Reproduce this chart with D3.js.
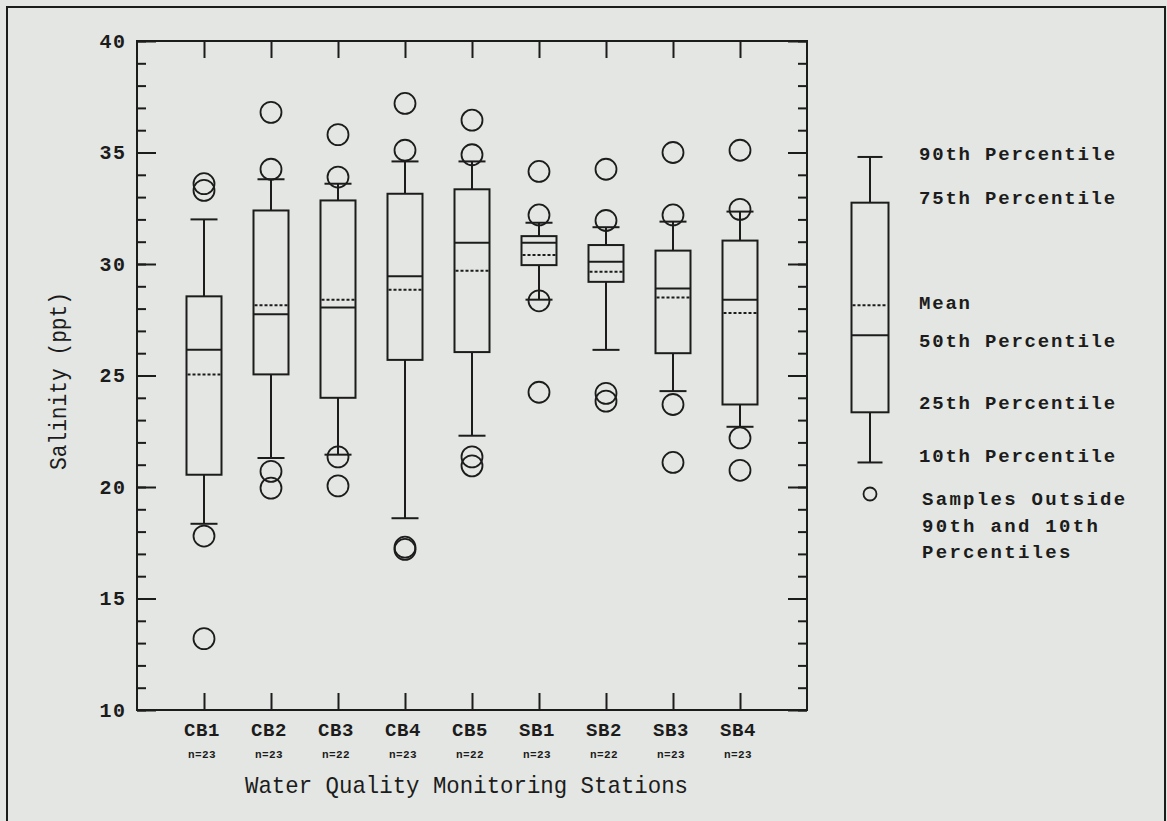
<!DOCTYPE html>
<html>
<head>
<meta charset="utf-8">
<script src="https://cdn.jsdelivr.net/npm/d3@7"></script>
<style>
  html, body { margin: 0; padding: 0; background: #e3e6e2; }
  svg { display: block; }
</style>
</head>
<body>
<svg id="chart" width="1167" height="821"></svg>
<script>
// ---------------- data ----------------
const stations = ["CB1", "CB2", "CB3", "CB4", "CB5", "SB1", "SB2", "SB3", "SB4"];
const nCounts  = [23, 23, 22, 23, 22, 23, 22, 23, 23];
const p90   = [32.0, 33.8, 33.6, 34.6, 34.6, 31.85, 31.65, 31.9, 32.35];
const p75   = [28.55, 32.4, 32.85, 33.15, 33.35, 31.25, 30.85, 30.6, 31.05];
const p50   = [26.15, 27.75, 28.05, 29.45, 30.95, 30.95, 30.1, 28.9, 28.4];
const means = [25.05, 28.15, 28.4, 28.85, 29.7, 30.4, 29.65, 28.5, 27.8];
const p25   = [20.55, 25.05, 24.0, 25.7, 26.05, 29.95, 29.2, 26.0, 23.7];
const p10   = [18.35, 21.3, 21.45, 18.6, 22.3, 28.4, 26.15, 24.3, 22.7];
const outliers = [
  [33.6, 33.3, 17.8, 13.2],
  [36.8, 34.25, 20.7, 19.95],
  [35.8, 33.9, 21.35, 20.05],
  [37.2, 35.1, 17.3, 17.2],
  [36.45, 34.9, 21.35, 20.95],
  [34.15, 32.2, 28.35, 24.25],
  [34.25, 31.95, 24.2, 23.85],
  [35.0, 32.2, 23.7, 21.1],
  [35.1, 32.45, 22.2, 20.75]
];
const yMajorTicks = [10, 15, 20, 25, 30, 35, 40];
const yMinorTicks = d3.range(10, 41, 1);

// legend sample box (in salinity units): p90, p75, mean, p50, p25, p10
const legendBox = [34.8, 32.75, 28.15, 26.8, 23.35, 21.1];
const legendLabels = ["90th Percentile", "75th Percentile", "Mean", "50th Percentile", "25th Percentile", "10th Percentile"];
const legendOutlierLabel = ["Samples Outside", "90th and 10th", "Percentiles"];

// ---------------- layout ----------------
const L = 137, R = 807, T = 41, B = 710;
const ink = "#1c1c1c";
const svg = d3.select("#chart");

svg.append("rect").attr("x", 0).attr("y", 0).attr("width", 1167).attr("height", 821).attr("fill", "#e3e6e2");
// outer frame
svg.append("rect").attr("x", 7).attr("y", 7).attr("width", 1158).attr("height", 830)
  .attr("fill", "none").attr("stroke", ink).attr("stroke-width", 2);

const x = d3.scalePoint().domain(stations).range([L, R]).padding(1);
const y = d3.scaleLinear().domain([10, 40]).range([B, T]);

const boldFont = "'Liberation Mono', 'DejaVu Sans Mono', monospace";

// plot frame
svg.append("rect").attr("x", L).attr("y", T).attr("width", R - L).attr("height", B - T)
  .attr("fill", "none").attr("stroke", ink).attr("stroke-width", 2);

function styleAxis(g) {
  g.select(".domain").remove();
  g.selectAll(".tick line").attr("stroke", ink).attr("stroke-width", 2);
}

// left axis: minor + major
svg.append("g").attr("transform", `translate(${L},0)`)
  .call(d3.axisLeft(y).tickValues(yMinorTicks).tickSize(-9).tickFormat(""))
  .call(styleAxis);
const leftMajor = svg.append("g").attr("transform", `translate(${L},0)`)
  .call(d3.axisLeft(y).tickValues(yMajorTicks).tickSize(-19).tickPadding(12).tickFormat(d3.format("d")))
  .call(styleAxis);
leftMajor.selectAll("text")
  .attr("fill", ink).attr("font-family", boldFont).attr("font-weight", "bold")
  .attr("font-size", 20).attr("letter-spacing", 1.4).attr("dx", 1.4);

// right axis
svg.append("g").attr("transform", `translate(${R},0)`)
  .call(d3.axisRight(y).tickValues(yMinorTicks).tickSize(-9).tickFormat(""))
  .call(styleAxis);
svg.append("g").attr("transform", `translate(${R},0)`)
  .call(d3.axisRight(y).tickValues(yMajorTicks).tickSize(-19).tickFormat(""))
  .call(styleAxis);

// top & bottom category ticks
svg.append("g").attr("transform", `translate(0,${T})`)
  .call(d3.axisTop(x).tickSize(-17).tickFormat(""))
  .call(styleAxis);
svg.append("g").attr("transform", `translate(0,${B})`)
  .call(d3.axisBottom(x).tickSize(-17).tickFormat(""))
  .call(styleAxis);

// category labels
svg.append("g").selectAll("text").data(stations).join("text")
  .attr("x", d => x(d) - 2).attr("y", 736)
  .attr("text-anchor", "middle")
  .attr("font-family", boldFont).attr("font-weight", "bold")
  .attr("font-size", 19).attr("letter-spacing", 0.6).attr("fill", ink)
  .text(d => d);
svg.append("g").selectAll("text").data(stations).join("text")
  .attr("x", d => x(d) - 2).attr("y", 758)
  .attr("text-anchor", "middle")
  .attr("font-family", boldFont).attr("font-weight", "bold")
  .attr("font-size", 11).attr("letter-spacing", 0.4).attr("fill", ink)
  .text((d, i) => "n=" + nCounts[i]);

// axis titles
svg.append("text")
  .attr("x", 245).attr("y", 793)
  .attr("font-family", boldFont).attr("font-size", 24)
  .attr("textLength", 443).attr("lengthAdjust", "spacingAndGlyphs")
  .attr("fill", ink)
  .text("Water Quality Monitoring Stations");
svg.append("text")
  .attr("transform", `translate(66,470) rotate(-90)`)
  .attr("font-family", boldFont).attr("font-size", 23)
  .attr("textLength", 178).attr("lengthAdjust", "spacingAndGlyphs")
  .attr("fill", ink)
  .text("Salinity (ppt)");

// ---------------- box plots ----------------
const boxW = 35, capW = 27;
function drawBox(g, cx, s90, s75, sMean, s50, s25, s10, bw, cw) {
  const line = (x1, y1, x2, y2, dash) => {
    const l = g.append("line").attr("x1", x1).attr("y1", y1).attr("x2", x2).attr("y2", y2)
      .attr("stroke", ink).attr("stroke-width", 2);
    if (dash) l.attr("stroke-dasharray", dash);
    return l;
  };
  // whiskers
  line(cx, y(s90), cx, y(s75));
  line(cx, y(s25), cx, y(s10));
  line(cx - cw / 2, y(s90), cx + cw / 2, y(s90));
  line(cx - cw / 2, y(s10), cx + cw / 2, y(s10));
  // box
  g.append("rect").attr("x", cx - bw / 2).attr("y", y(s75))
    .attr("width", bw).attr("height", y(s25) - y(s75))
    .attr("fill", "none").attr("stroke", ink).attr("stroke-width", 2);
  // median
  line(cx - bw / 2, y(s50), cx + bw / 2, y(s50));
  // mean
  line(cx - bw / 2 + 1, y(sMean), cx + bw / 2 - 1, y(sMean), "3,2");
}

const boxes = svg.append("g");
stations.forEach((s, i) => {
  const g = boxes.append("g");
  drawBox(g, x(s), p90[i], p75[i], means[i], p50[i], p25[i], p10[i], boxW, capW);
  g.selectAll("circle").data(outliers[i]).join("circle")
    .attr("cx", x(s)).attr("cy", d => y(d)).attr("r", 10.5)
    .attr("fill", "none").attr("stroke", ink).attr("stroke-width", 1.8);
});

// ---------------- legend ----------------
const lgX = 870;
const lg = svg.append("g");
drawBox(lg, lgX, legendBox[0], legendBox[1], legendBox[2], legendBox[3], legendBox[4], legendBox[5], 37, 25);
const legendTextY = [160, 204, 309, 347, 409, 462];
lg.selectAll("text.lab").data(legendLabels).join("text")
  .attr("class", "lab")
  .attr("x", 919).attr("y", (d, i) => legendTextY[i])
  .attr("font-family", boldFont).attr("font-weight", "bold")
  .attr("font-size", 19).attr("letter-spacing", 1.8).attr("fill", ink)
  .text(d => d);
lg.append("circle").attr("cx", lgX).attr("cy", 494).attr("r", 6.5)
  .attr("fill", "none").attr("stroke", ink).attr("stroke-width", 1.8);
lg.selectAll("text.out").data(legendOutlierLabel).join("text")
  .attr("class", "out")
  .attr("x", 922).attr("y", (d, i) => 505 + i * 26.5)
  .attr("font-family", boldFont).attr("font-weight", "bold")
  .attr("font-size", 19).attr("letter-spacing", 2.3).attr("fill", ink)
  .text(d => d);
</script>
</body>
</html>
